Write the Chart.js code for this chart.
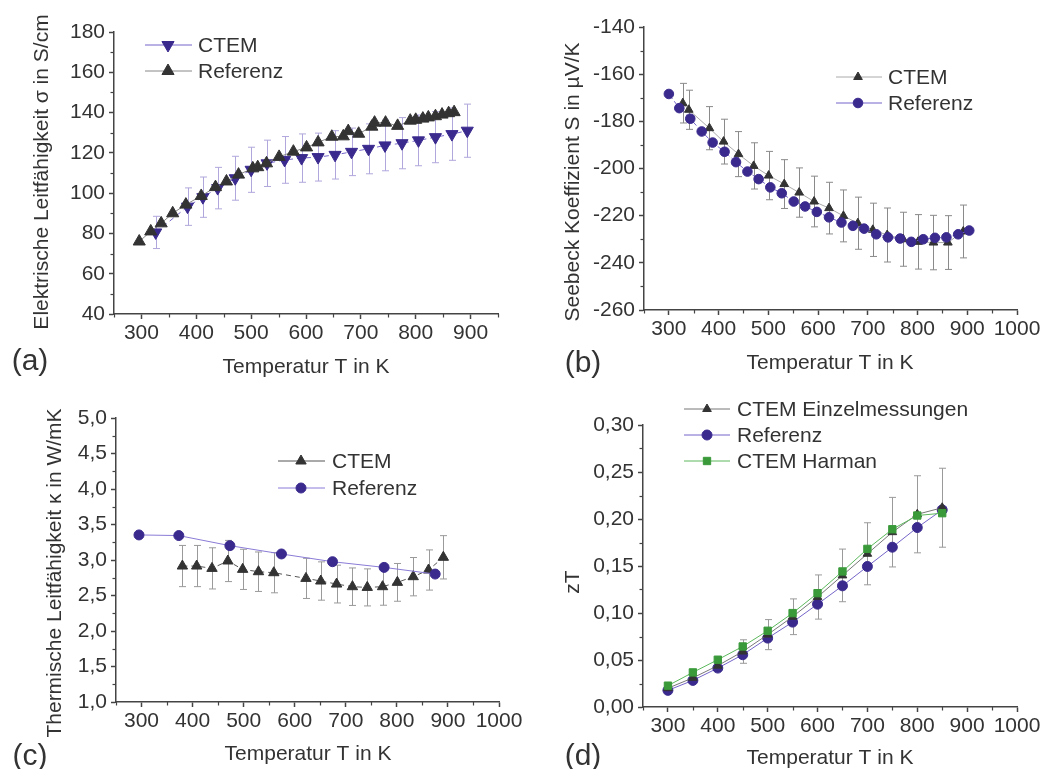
<!DOCTYPE html>
<html><head><meta charset="utf-8">
<script src="https://cdn.jsdelivr.net/npm/chart.js@4/dist/chart.umd.min.js"></script>
<style>
html,body{margin:0;padding:0;background:#fff;}
#wrap{position:relative;width:1057px;height:769px;overflow:hidden;background:#fff}
.p{position:absolute}
canvas{display:block}
</style></head><body>
<div id="wrap">
<div class="p" style="left:0;top:0"><canvas id="ca" width="528" height="384"></canvas></div>
<div class="p" style="left:528px;top:0"><canvas id="cb" width="529" height="384"></canvas></div>
<div class="p" style="left:0;top:384px"><canvas id="cc" width="528" height="385"></canvas></div>
<div class="p" style="left:528px;top:384px"><canvas id="cd" width="529" height="385"></canvas></div>
</div>
<script>
// ---------- DATA ----------
// (a) electrical conductivity
const aCtemT = [326,384,412,439,471,500,529,561,592,622,653,683,714,744,775,805,836,866,894];
const aCtemSigma = [80.5,93.3,98,102.5,107.4,111.6,114.8,116.5,117.4,117.9,119,120.5,122,123.7,124.8,126.2,127.8,129.3,131];
const aCtemErr = [8,9.3,10,10.3,10.9,11.2,11.5,11.6,12,11.9,12,11.8,12.4,12.6,12.7,12.6,12.7,13,13.2];
const aRefT = [296,317,336,357,381,409,435,455,477,503,512,528,551,577,601,622,647,668,677,696,720,725,745,767,790,800,813,823,836,848,860,870];
const aRefSigma = [76,81,85,90,94.3,98.6,103,105.8,109.2,112.3,112.9,114.8,118,120.6,122.7,125.2,128,128.2,130.8,129.5,133,135,135,133.4,136,136.4,137,137.6,138.2,139,139.7,140.2];
// (b) Seebeck coefficient
const bCtemT = [328,340,381.5,410,440,470.5,500.6,532,562,592,622,651,680,710,739,771,801,832,861,892];
const bCtemS = [-172.3,-175.1,-182.9,-188.6,-193.9,-198.9,-203,-206.6,-210.2,-214,-216.8,-220.1,-223.2,-226,-228.2,-230,-231.1,-231.4,-231.4,-226.7];
const bCtemErr = [8.4,8.3,9.15,9.5,9.55,9.8,10.25,10.35,10.45,10.75,10.95,11,11.05,11.3,11.45,11.45,11.55,11.55,11.4,11.2];
const bRefT = [300,321,343,366,388,412,435,458,480.5,504,527,551,574,597.5,622,647,670,692.5,717,740.6,765,787.4,811.5,835,858,881.7,904];
const bRefS = [-168.4,-174.4,-178.9,-184.3,-189,-192.9,-197.3,-201.3,-204.5,-208,-210.5,-214,-216.1,-218.4,-220.7,-222.9,-224.3,-225.5,-227.9,-229.2,-229.7,-231.1,-230,-229.4,-229.2,-227.9,-226.3];
// (c) thermal conductivity
const cCtemT = [380,408,438,469,498,529,559,622,651,682,713,742,772,801,832,862,891];
const cCtemK = [2.915,2.915,2.882,2.986,2.868,2.835,2.821,2.741,2.704,2.661,2.624,2.614,2.624,2.685,2.765,2.859,3.038];
const cCtemErr = [0.29,0.29,0.29,0.29,0.283,0.278,0.283,0.283,0.27,0.266,0.264,0.261,0.261,0.266,0.27,0.283,0.305];
const cRefT = [295,373,473,574,674,775,875];
const cRefK = [3.353,3.344,3.202,3.085,2.976,2.896,2.802];
// (d) zT
const dT = [300,350,400,450,500,550,600,650,700,750,800,850];
const dCtemZT = [0.020,0.031,0.044,0.059,0.077,0.096,0.117,0.140,0.163,0.186,0.205,0.212];
const dCtemErr = [0.002,0.003,0.005,0.0125,0.016,0.019,0.0235,0.028,0.033,0.037,0.041,0.042];
const dRefZT = [0.0177,0.0283,0.0414,0.0556,0.0733,0.0903,0.1094,0.1289,0.1495,0.170,0.1909,0.2097];
const dHarmanZT = [0.0227,0.0368,0.0503,0.0644,0.0811,0.0999,0.1211,0.1442,0.1682,0.1891,0.2037,0.2062];
// ticks
const aXTicks = [300,400,500,600,700,800,900];
const xTicks = [300,400,500,600,700,800,900,1000];
const aYTicks = [40,60,80,100,120,140,160,180];
const bYTicks = [-260,-240,-220,-200,-180,-160,-140];
const cYTicks = [1.0,1.5,2.0,2.5,3.0,3.5,4.0,4.5,5.0];
const dYTicks = [0,0.05,0.10,0.15,0.20,0.25,0.30];

// ---------- STYLE ----------
const FONT = '"Liberation Sans", Arial, sans-serif';
const TXT = '#333';
const AX = '#444';
const PURPLE = '#3b2a8e';
const DARK = '#333333';
const GREEN = '#3a9a3a';

function pts(xs, ys) { return xs.map((x, i) => ({x: x, y: ys[i]})); }
const comma = d => v => Number(v).toFixed(d).replace('.', ',');

const PANEL = {};

const extras = {
  id: 'extras',
  beforeDatasetsDraw(chart) {
    const ctx = chart.ctx, xs = chart.scales.x, ys = chart.scales.y;
    chart.data.datasets.forEach(ds => {
      if (!ds.errors) return;
      ctx.save(); ctx.strokeStyle = ds.errorColor; ctx.lineWidth = 1;
      ds.data.forEach((p, j) => {
        const e = ds.errors[j];
        const px = Math.round(xs.getPixelForValue(p.x)) + 0.5;
        const yt = ys.getPixelForValue(p.y + e), yb = ys.getPixelForValue(p.y - e);
        ctx.beginPath();
        ctx.moveTo(px, yt); ctx.lineTo(px, yb);
        ctx.moveTo(px - 3.5, yt); ctx.lineTo(px + 3.5, yt);
        ctx.moveTo(px - 3.5, yb); ctx.lineTo(px + 3.5, yb);
        ctx.stroke();
      });
      ctx.restore();
    });
  },
  afterDraw(chart) {
    const o = PANEL[chart.canvas.id];
    const ctx = chart.ctx, xs = chart.scales.x, ys = chart.scales.y;
    ctx.save();
    ctx.strokeStyle = AX; ctx.lineWidth = 1.2;
    for (let v = Math.ceil(xs.min / o.xminor) * o.xminor; v <= xs.max + 1e-9; v += o.xminor) {
      if (o.xticks.some(t => Math.abs(t - v) < 1e-9)) continue;
      const px = Math.round(xs.getPixelForValue(v)) + 0.5;
      ctx.beginPath(); ctx.moveTo(px, xs.top); ctx.lineTo(px, xs.top + 3.5); ctx.stroke();
    }
    for (let k = 0; ; k++) {
      const v = ys.min + k * o.yminor;
      if (v > ys.max + 1e-9) break;
      if (o.yticks.some(t => Math.abs(t - v) < 1e-9)) continue;
      const py = Math.round(ys.getPixelForValue(v)) + 0.5;
      ctx.beginPath(); ctx.moveTo(ys.right, py); ctx.lineTo(ys.right - 3.5, py); ctx.stroke();
    }
    // legend
    const L = o.legend;
    ctx.font = '21px ' + FONT; ctx.textBaseline = 'middle'; ctx.textAlign = 'left';
    L.rows.forEach((di, k) => {
      const ds = chart.data.datasets[di];
      const y = L.ys[k];
      ctx.setLineDash([]);
      ctx.strokeStyle = ds.borderColor; ctx.lineWidth = 1;
      ctx.beginPath(); ctx.moveTo(L.x0, y); ctx.lineTo(L.x1, y); ctx.stroke();
      ctx.fillStyle = ds.pointBackgroundColor; ctx.strokeStyle = ds.pointBorderColor;
      Chart.helpers.drawPoint(ctx, {pointStyle: ds.pointStyle, rotation: ds.pointRotation || 0, radius: ds.pointRadius, borderWidth: 1}, L.xm, y);
      ctx.fillStyle = TXT;
      ctx.fillText(ds.label, L.tx, y + 1);
    });
    // free texts
    o.texts.forEach(t => {
      ctx.save();
      ctx.translate(t.x, t.y); if (t.rot) ctx.rotate(t.rot * Math.PI / 180);
      ctx.font = (t.size || 21) + 'px ' + FONT; ctx.fillStyle = TXT;
      ctx.textAlign = 'center'; ctx.textBaseline = 'middle';
      ctx.fillText(t.t, 0, 0);
      ctx.restore();
    });
    ctx.restore();
  }
};

function panel(id, o) {
  PANEL[id] = o;
  return new Chart(document.getElementById(id), {
    type: 'line',
    data: {datasets: o.datasets},
    options: {
      responsive: false, animation: false, events: [],
      layout: {padding: o.pad},
      elements: {line: {tension: 0}},
      scales: {
        x: {
          type: 'linear', min: o.xmin, max: o.xmax,
          afterBuildTicks: s => { s.ticks = o.xticks.map(v => ({value: v})); },
          afterFit: s => { s.height = o.xh; },
          grid: {drawOnChartArea: false, tickLength: 5, tickColor: AX, tickWidth: 1.5},
          border: {color: AX, width: 1.5},
          ticks: {color: TXT, font: {family: FONT, size: 21}, padding: 2, autoSkip: false, maxRotation: 0, callback: v => String(v)}
        },
        y: {
          type: 'linear', min: o.ymin, max: o.ymax,
          afterBuildTicks: s => { s.ticks = o.yticks.map(v => ({value: v})); },
          afterFit: s => { s.width = o.yw; },
          grid: {drawOnChartArea: false, tickLength: 5, tickColor: AX, tickWidth: 1.5},
          border: {color: AX, width: 1.5},
          ticks: {color: TXT, font: {family: FONT, size: 21}, padding: 4, autoSkip: false, callback: o.yfmt}
        }
      },
      plugins: {legend: {display: false}, tooltip: {enabled: false}}
    },
    plugins: [extras]
  });
}

// (a)
panel('ca', {
  pad: {left: 0, top: 32, right: 30, bottom: 0}, xh: 70, yw: 114,
  xmin: 250, xmax: 950, xticks: aXTicks, xminor: 50,
  ymin: 40, ymax: 180, yticks: aYTicks, yminor: 10, yfmt: v => String(v),
  datasets: [
    {label: 'CTEM', data: pts(aCtemT, aCtemSigma), borderColor: '#7565c8', borderWidth: 1, borderDash: [5, 4],
     pointStyle: 'triangle', pointRotation: 180, pointRadius: 7, pointBackgroundColor: PURPLE, pointBorderColor: PURPLE,
     errors: aCtemErr, errorColor: '#b1a7dc', order: 2},
    {label: 'Referenz', data: pts(aRefT, aRefSigma), borderColor: '#888', borderWidth: 1,
     pointStyle: 'triangle', pointRadius: 7, pointBackgroundColor: DARK, pointBorderColor: DARK, order: 1}
  ],
  legend: {rows: [0, 1], ys: [45, 71], x0: 145, x1: 192, xm: 168, tx: 198},
  texts: [
    {t: 'Elektrische Leitfähigkeit σ in S/cm', x: 42, y: 172, rot: -90},
    {t: 'Temperatur T in K', x: 306, y: 367},
    {t: '(a)', x: 30, y: 362, size: 30}
  ]
});

// (b)
panel('cb', {
  pad: {left: 0, top: 27, right: 40, bottom: 0}, xh: 74, yw: 116,
  xmin: 250, xmax: 1000, xticks: xTicks, xminor: 50,
  ymin: -260, ymax: -140, yticks: bYTicks, yminor: 10, yfmt: v => String(v),
  datasets: [
    {label: 'CTEM', data: pts(bCtemT, bCtemS), borderColor: '#aaaaaa', borderWidth: 1,
     pointStyle: 'triangle', pointRadius: 5, pointBackgroundColor: DARK, pointBorderColor: DARK,
     errors: bCtemErr, errorColor: '#8a8a8a', order: 2},
    {label: 'Referenz', data: pts(bRefT, bRefS), borderColor: '#7565c8', borderWidth: 1, borderDash: [6, 3],
     pointStyle: 'circle', pointRadius: 4.8, pointBackgroundColor: PURPLE, pointBorderColor: PURPLE, order: 1}
  ],
  legend: {rows: [0, 1], ys: [77, 103], x0: 308, x1: 354, xm: 330, tx: 360},
  texts: [
    {t: 'Seebeck Koeffizient S in µV/K', x: 45, y: 182, rot: -90},
    {t: 'Temperatur T in K', x: 302, y: 363},
    {t: '(b)', x: 55, y: 364, size: 30}
  ]
});

// (c)
panel('cc', {
  pad: {left: 0, top: 34, right: 29, bottom: 0}, xh: 67, yw: 116,
  xmin: 250, xmax: 1000, xticks: xTicks, xminor: 50,
  ymin: 1, ymax: 5, yticks: cYTicks, yminor: 0.25, yfmt: comma(1),
  datasets: [
    {label: 'CTEM', data: pts(cCtemT, cCtemK), borderColor: '#555', borderWidth: 1, borderDash: [5, 4],
     pointStyle: 'triangle', pointRadius: 6, pointBackgroundColor: DARK, pointBorderColor: DARK,
     errors: cCtemErr, errorColor: '#9a9a9a', order: 2},
    {label: 'Referenz', data: pts(cRefT, cRefK), borderColor: '#8a7bd6', borderWidth: 1,
     pointStyle: 'circle', pointRadius: 5, pointBackgroundColor: PURPLE, pointBorderColor: PURPLE, order: 1}
  ],
  legend: {rows: [0, 1], ys: [77, 104], x0: 278, x1: 325, xm: 301, tx: 332},
  texts: [
    {t: 'Thermische Leitfähigkeit κ in W/mK', x: 55, y: 189, rot: -90},
    {t: 'Temperatur T in K', x: 308, y: 370},
    {t: '(c)', x: 30, y: 373, size: 30}
  ]
});

// (d)
panel('cd', {
  pad: {left: 0, top: 41, right: 40, bottom: 0}, xh: 62, yw: 115,
  xmin: 250, xmax: 1000, xticks: xTicks, xminor: 50,
  ymin: 0, ymax: 0.30, yticks: dYTicks, yminor: 0.025, yfmt: comma(2),
  datasets: [
    {label: 'CTEM Einzelmessungen', data: pts(dT, dCtemZT), borderColor: '#777', borderWidth: 1,
     pointStyle: 'triangle', pointRadius: 5, pointBackgroundColor: DARK, pointBorderColor: DARK,
     errors: dCtemErr, errorColor: '#9a9a9a', order: 2},
    {label: 'Referenz', data: pts(dT, dRefZT), borderColor: '#7565c8', borderWidth: 1,
     pointStyle: 'circle', pointRadius: 5, pointBackgroundColor: PURPLE, pointBorderColor: PURPLE, order: 3},
    {label: 'CTEM Harman', data: pts(dT, dHarmanZT), borderColor: '#5cb85c', borderWidth: 1,
     pointStyle: 'rect', pointRadius: 5.2, pointBackgroundColor: GREEN, pointBorderColor: GREEN, order: 1}
  ],
  legend: {rows: [0, 1, 2], ys: [25, 51, 77], x0: 156, x1: 202, xm: 179, tx: 209},
  texts: [
    {t: 'zT', x: 45, y: 198, rot: -90},
    {t: 'Temperatur T in K', x: 302, y: 374},
    {t: '(d)', x: 55, y: 373, size: 30}
  ]
});
</script>
</body></html>
